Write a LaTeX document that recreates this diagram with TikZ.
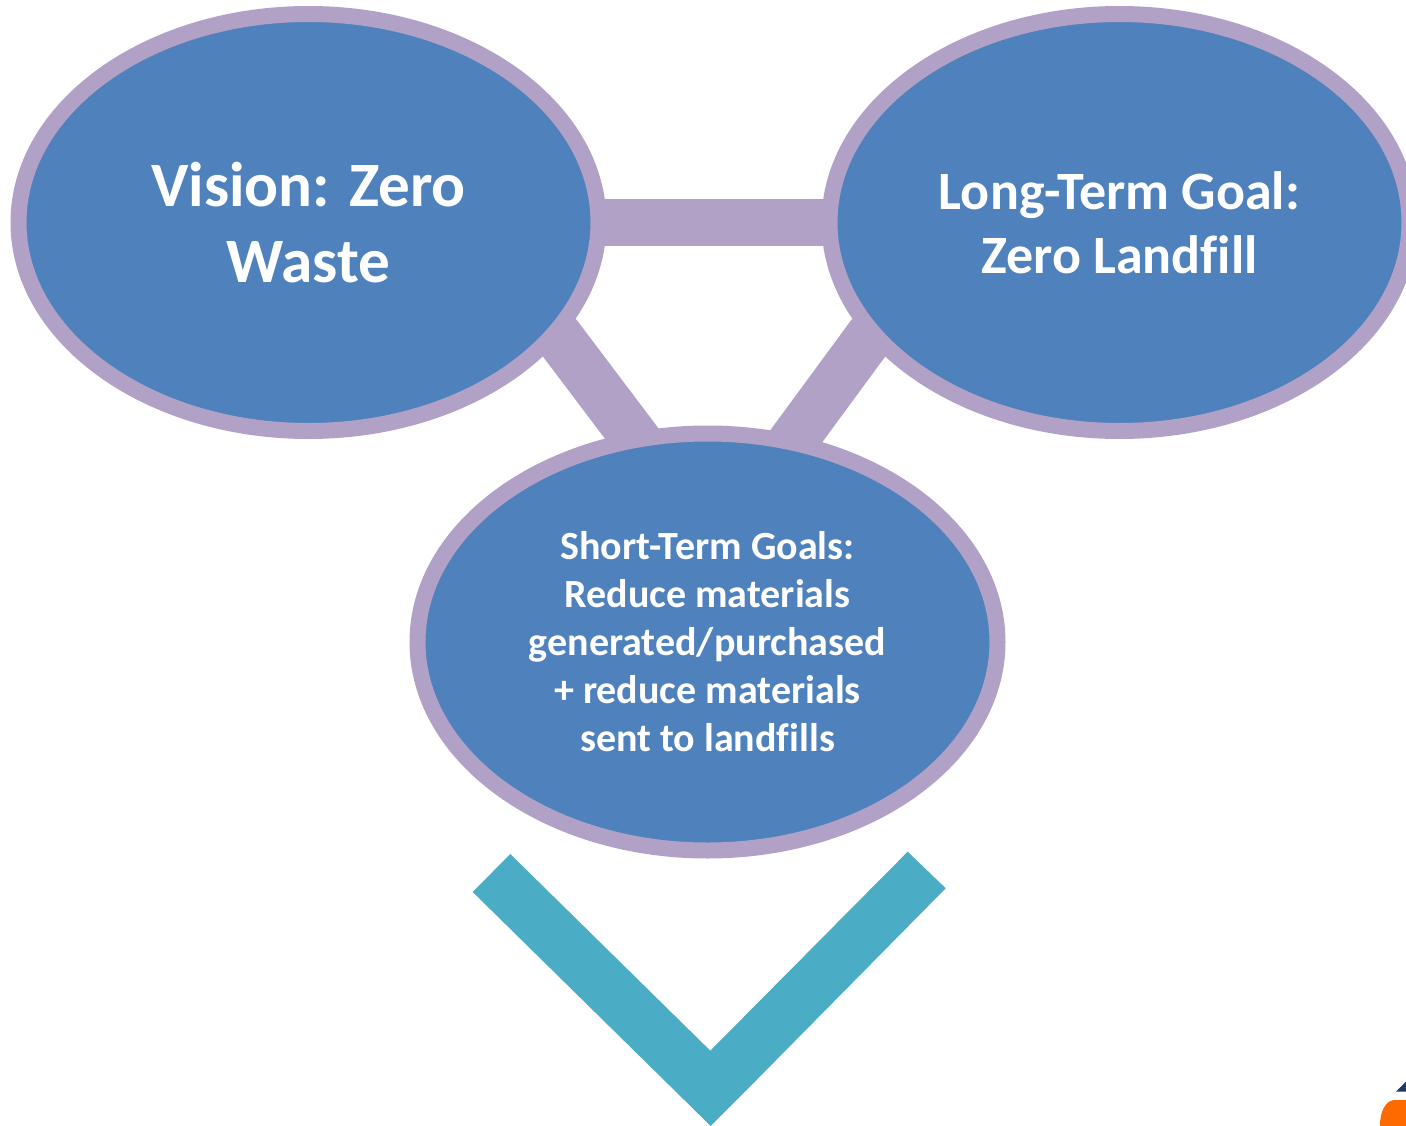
\documentclass[tikz,border=0pt]{standalone}
\usepackage{fontspec}
\setmainfont[Ligatures=NoCommon]{Carlito}
\usetikzlibrary{shapes.geometric,backgrounds}
\definecolor{bluefill}{HTML}{4F81BD}
\definecolor{purpleline}{HTML}{B2A1C7}
\definecolor{tealmark}{HTML}{4BACC6}
\definecolor{logoorange}{HTML}{FF6A00}
\definecolor{logonavy}{HTML}{1F3864}
\tikzset{
  goal/.style={ellipse,draw=purpleline,fill=bluefill,line width=16pt,minimum width=580pt,minimum height=417pt,inner sep=0pt,text=white,align=center},
  link/.style={draw=purpleline,line width=47pt,line cap=butt},
  slant/.style={draw=purpleline,line width=49pt,line cap=butt},
  bigtext/.style={font=\bfseries\fontsize{63.2}{76}\selectfont},
  midtext/.style={font=\bfseries\fontsize{54}{64}\selectfont},
  smalltext/.style={font=\bfseries\fontsize{40}{48}\selectfont}
}
\begin{document}
\begin{tikzpicture}[x=1pt,y=-1pt]
\useasboundingbox (0,0) rectangle (1406,1126);
\clip (0,0) rectangle (1406,1126);
\node[goal,bigtext] (vision) at (308.5,222.5) {\raisebox{-1.5pt}{Vision: Zero}\\\raisebox{-1.5pt}{Waste}};
\node[goal,midtext] (longterm) at (1119.5,222.5) {Long-Term Goal:\\Zero Landfill};
\node[goal,smalltext] (shortterm) at (707.5,642) {Short-Term Goals:\\Reduce materials\\generated/purchased\\+ reduce materials\\sent to landfills};
\coordinate (leftfree) at (520,285.5);
\coordinate (lefthit) at (660,471);
\coordinate (rightfree) at (907,285.5);
\coordinate (righthit) at (770,472);
\begin{scope}[on background layer]
\draw[link] (vision.center) -- (longterm.center);
\draw[slant] (leftfree) -- (lefthit);
\draw[slant] (rightfree) -- (righthit);
\end{scope}
\fill[tealmark] (510.3,854) -- (472.7,892) -- (710.7,1126) -- (748.3,1088.3) -- (945.7,888.3) -- (907.7,851.7) -- (710.3,1050.7) -- cycle;
\fill[logonavy] (1396,1091.7) -- (1406,1081.7) -- (1406,1091.7) -- cycle;
\fill[logoorange] (1406,1100) -- (1394,1100) .. controls (1385,1101) and (1380,1112) .. (1380,1126) -- (1406,1126) -- cycle;
\end{tikzpicture}
\end{document}
